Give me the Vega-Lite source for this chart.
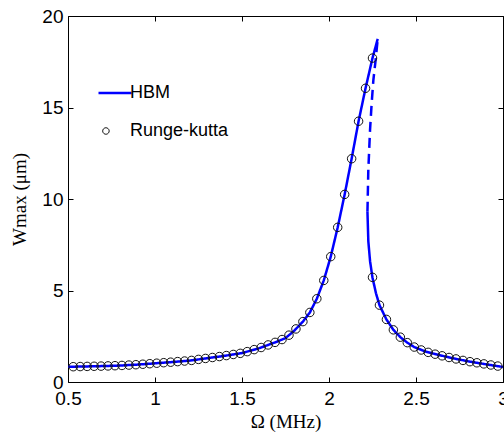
{
  "$schema": "https://vega.github.io/schema/vega-lite/v6.json",
  "width": 435,
  "height": 366,
  "autosize": {"type": "none"},
  "padding": {"left": 68, "top": 16, "right": 1, "bottom": 54},
  "background": "white",
  "config": {
    "view": {"stroke": "black", "strokeWidth": 1},
    "axis": {
      "grid": false,
      "domain": false,
      "tickColor": "black",
      "tickWidth": 1,
      "tickSize": -5,
      "labelColor": "black",
      "labelFont": "Liberation Sans",
      "labelFontSize": 19,
      "labelFlush": false,
      "labelOverlap": false,
      "titleColor": "black",
      "titleFont": "Liberation Serif",
      "titleFontSize": 19,
      "titleFontWeight": "normal"
    }
  },
  "datasets": {
    "hbm": [
      {"omega": 0.5, "w": 0.83, "branch": "left", "kind": "stable"},
      {"omega": 0.6, "w": 0.85, "branch": "left", "kind": "stable"},
      {"omega": 0.7, "w": 0.87, "branch": "left", "kind": "stable"},
      {"omega": 0.8, "w": 0.9, "branch": "left", "kind": "stable"},
      {"omega": 0.9, "w": 0.95, "branch": "left", "kind": "stable"},
      {"omega": 1.0, "w": 1.02, "branch": "left", "kind": "stable"},
      {"omega": 1.1, "w": 1.09, "branch": "left", "kind": "stable"},
      {"omega": 1.2, "w": 1.17, "branch": "left", "kind": "stable"},
      {"omega": 1.3, "w": 1.3, "branch": "left", "kind": "stable"},
      {"omega": 1.4, "w": 1.43, "branch": "left", "kind": "stable"},
      {"omega": 1.5, "w": 1.58, "branch": "left", "kind": "stable"},
      {"omega": 1.6, "w": 1.85, "branch": "left", "kind": "stable"},
      {"omega": 1.7, "w": 2.2, "branch": "left", "kind": "stable"},
      {"omega": 1.75, "w": 2.4, "branch": "left", "kind": "stable"},
      {"omega": 1.8, "w": 2.8, "branch": "left", "kind": "stable"},
      {"omega": 1.85, "w": 3.3, "branch": "left", "kind": "stable"},
      {"omega": 1.89, "w": 3.8, "branch": "left", "kind": "stable"},
      {"omega": 1.93, "w": 4.55, "branch": "left", "kind": "stable"},
      {"omega": 1.97, "w": 5.55, "branch": "left", "kind": "stable"},
      {"omega": 2.01, "w": 6.85, "branch": "left", "kind": "stable"},
      {"omega": 2.05, "w": 8.45, "branch": "left", "kind": "stable"},
      {"omega": 2.09, "w": 10.25, "branch": "left", "kind": "stable"},
      {"omega": 2.13, "w": 12.2, "branch": "left", "kind": "stable"},
      {"omega": 2.17, "w": 14.25, "branch": "left", "kind": "stable"},
      {"omega": 2.21, "w": 16.05, "branch": "left", "kind": "stable"},
      {"omega": 2.25, "w": 17.7, "branch": "left", "kind": "stable"},
      {"omega": 2.28, "w": 18.75, "branch": "left", "kind": "stable"},
      {"omega": 2.221, "w": 9.3, "branch": "unstable", "kind": "unstable"},
      {"omega": 2.226, "w": 11.6, "branch": "unstable", "kind": "unstable"},
      {"omega": 2.236, "w": 13.8, "branch": "unstable", "kind": "unstable"},
      {"omega": 2.245, "w": 15.2, "branch": "unstable", "kind": "unstable"},
      {"omega": 2.255, "w": 16.5, "branch": "unstable", "kind": "unstable"},
      {"omega": 2.268, "w": 17.6, "branch": "unstable", "kind": "unstable"},
      {"omega": 2.28, "w": 18.75, "branch": "unstable", "kind": "unstable"},
      {"omega": 2.221, "w": 9.3, "branch": "right", "kind": "stable"},
      {"omega": 2.226, "w": 7.7, "branch": "right", "kind": "stable"},
      {"omega": 2.236, "w": 6.6, "branch": "right", "kind": "stable"},
      {"omega": 2.25, "w": 5.7, "branch": "right", "kind": "stable"},
      {"omega": 2.27, "w": 4.85, "branch": "right", "kind": "stable"},
      {"omega": 2.29, "w": 4.2, "branch": "right", "kind": "stable"},
      {"omega": 2.33, "w": 3.42, "branch": "right", "kind": "stable"},
      {"omega": 2.37, "w": 2.85, "branch": "right", "kind": "stable"},
      {"omega": 2.41, "w": 2.45, "branch": "right", "kind": "stable"},
      {"omega": 2.45, "w": 2.15, "branch": "right", "kind": "stable"},
      {"omega": 2.49, "w": 1.91, "branch": "right", "kind": "stable"},
      {"omega": 2.55, "w": 1.68, "branch": "right", "kind": "stable"},
      {"omega": 2.6, "w": 1.55, "branch": "right", "kind": "stable"},
      {"omega": 2.7, "w": 1.32, "branch": "right", "kind": "stable"},
      {"omega": 2.8, "w": 1.13, "branch": "right", "kind": "stable"},
      {"omega": 2.9, "w": 0.97, "branch": "right", "kind": "stable"},
      {"omega": 3.0, "w": 0.82, "branch": "right", "kind": "stable"}
    ],
    "rk": [
      {"omega": 0.53, "w": 0.836}, {"omega": 0.57, "w": 0.844}, {"omega": 0.61, "w": 0.852},
      {"omega": 0.65, "w": 0.86}, {"omega": 0.69, "w": 0.868}, {"omega": 0.73, "w": 0.879},
      {"omega": 0.77, "w": 0.891}, {"omega": 0.81, "w": 0.905}, {"omega": 0.85, "w": 0.925},
      {"omega": 0.89, "w": 0.945}, {"omega": 0.93, "w": 0.971}, {"omega": 0.97, "w": 1.0},
      {"omega": 1.01, "w": 1.027}, {"omega": 1.05, "w": 1.055}, {"omega": 1.09, "w": 1.083},
      {"omega": 1.13, "w": 1.114}, {"omega": 1.17, "w": 1.146}, {"omega": 1.21, "w": 1.18},
      {"omega": 1.25, "w": 1.235}, {"omega": 1.29, "w": 1.287}, {"omega": 1.33, "w": 1.339},
      {"omega": 1.37, "w": 1.391}, {"omega": 1.41, "w": 1.445}, {"omega": 1.45, "w": 1.505},
      {"omega": 1.49, "w": 1.565}, {"omega": 1.53, "w": 1.66}, {"omega": 1.57, "w": 1.77},
      {"omega": 1.61, "w": 1.885}, {"omega": 1.65, "w": 2.025}, {"omega": 1.69, "w": 2.165},
      {"omega": 1.73, "w": 2.32}, {"omega": 1.77, "w": 2.56}, {"omega": 1.81, "w": 2.9},
      {"omega": 1.85, "w": 3.3}, {"omega": 1.89, "w": 3.8}, {"omega": 1.93, "w": 4.55},
      {"omega": 1.97, "w": 5.55}, {"omega": 2.01, "w": 6.85}, {"omega": 2.05, "w": 8.45},
      {"omega": 2.09, "w": 10.25}, {"omega": 2.13, "w": 12.2}, {"omega": 2.17, "w": 14.25},
      {"omega": 2.21, "w": 16.05}, {"omega": 2.25, "w": 17.7},
      {"omega": 2.25, "w": 5.72}, {"omega": 2.29, "w": 4.2}, {"omega": 2.33, "w": 3.42},
      {"omega": 2.37, "w": 2.85}, {"omega": 2.41, "w": 2.45}, {"omega": 2.45, "w": 2.15},
      {"omega": 2.49, "w": 1.91}, {"omega": 2.53, "w": 1.75}, {"omega": 2.57, "w": 1.62},
      {"omega": 2.61, "w": 1.52}, {"omega": 2.65, "w": 1.43}, {"omega": 2.69, "w": 1.34},
      {"omega": 2.73, "w": 1.26}, {"omega": 2.77, "w": 1.18}, {"omega": 2.81, "w": 1.11},
      {"omega": 2.85, "w": 1.05}, {"omega": 2.89, "w": 0.99}, {"omega": 2.93, "w": 0.93},
      {"omega": 2.97, "w": 0.87}
    ]
  },
  "layer": [
    {
      "data": {"name": "hbm"},
      "mark": {"type": "line", "strokeWidth": 2.5, "clip": true},
      "encoding": {
        "x": {
          "field": "omega", "type": "quantitative",
          "scale": {"domain": [0.5, 3], "nice": false, "zero": false},
          "axis": {"orient": "bottom", "values": [0.5, 1, 1.5, 2, 2.5, 3], "format": "~g", "labelPadding": 12, "title": "Ω (MHz)", "titlePadding": 4}
        },
        "y": {
          "field": "w", "type": "quantitative",
          "scale": {"domain": [0, 20], "nice": false, "zero": true},
          "axis": {"orient": "left", "values": [0, 5, 10, 15, 20], "labelPadding": 10, "title": "Wmax (μm)", "titlePadding": 12}
        },
        "detail": {"field": "branch"},
        "strokeDash": {
          "field": "kind", "type": "nominal",
          "scale": {"domain": ["stable", "unstable"], "range": [[1, 0], [10, 6]]},
          "legend": null
        },
        "color": {
          "datum": "HBM", "type": "nominal",
          "scale": {"domain": ["HBM", "Runge-kutta"], "range": ["#0000ff", "#111111"]},
          "legend": {
            "title": null,
            "orient": "none",
            "legendX": 38,
            "legendY": 68,
            "padding": 0,
            "labelFont": "Liberation Sans",
            "labelFontSize": 18,
            "labelColor": "black",
            "labelOffset": 6,
            "rowPadding": 20,
            "symbolSize": 1089,
            "symbolStrokeWidth": 2.5,
            "encode": {
              "symbols": {
                "update": {
                  "shape": {"signal": "datum.value === 'HBM' ? 'stroke' : 'M -1.8 0 A 1 1 0 1 1 -3.8 0 A 1 1 0 1 1 -1.8 0 Z'"},
                  "size": {"signal": "datum.value === 'HBM' ? 1089 : 42"},
                  "strokeWidth": {"signal": "datum.value === 'HBM' ? 2.5 : 1"},
                  "fill": {"value": "transparent"},
                  "strokeDash": {"value": [1, 0]}
                }
              }
            }
          }
        }
      }
    },
    {
      "data": {"name": "rk"},
      "mark": {"type": "point", "shape": "circle", "filled": false, "size": 72, "strokeWidth": 1, "opacity": 1, "clip": true},
      "encoding": {
        "x": {
          "field": "omega", "type": "quantitative",
          "axis": {"orient": "top", "values": [0.5, 1, 1.5, 2, 2.5, 3], "labels": false, "title": null}
        },
        "y": {
          "field": "w", "type": "quantitative",
          "axis": {"orient": "right", "values": [0, 5, 10, 15, 20], "labels": false, "title": null}
        },
        "color": {"datum": "Runge-kutta", "type": "nominal"}
      }
    }
  ],
  "resolve": {"axis": {"x": "independent", "y": "independent"}}
}
